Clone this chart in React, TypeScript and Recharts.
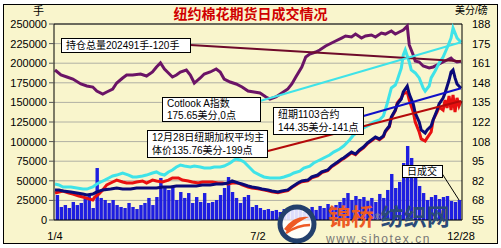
import { ComposedChart, Bar, Line, XAxis, YAxis, CartesianGrid, ReferenceLine } from 'recharts';

// trading day index (0 = 1/4, 204 = 12/28) paired with the value on that day

// 持仓总量 (手)
const openInterest: [number, number][] = [
  [0, 191300], [3, 185000], [6, 182400], [9, 179800], [13, 173500], [16, 170900], [19, 169600],
  [21, 164500], [24, 160700], [26, 163300], [29, 167100], [31, 174700], [34, 181100], [36, 184900],
  [39, 184900], [43, 186200], [46, 183700], [49, 188800], [51, 195200], [53, 200300], [55, 192600],
  [57, 187500], [59, 182400], [61, 184900], [63, 188800], [66, 191300], [68, 184900], [70, 174700],
  [73, 181100], [75, 186200], [78, 188800], [81, 192600], [83, 188800], [85, 179800], [88, 176000],
  [91, 173500], [94, 169600], [97, 164500], [100, 163300], [103, 162000], [106, 156900], [108, 154300],
  [111, 156900], [114, 162000], [117, 167100], [119, 173500], [121, 182400], [124, 195200], [126, 207900],
  [128, 211700], [131, 214300], [133, 216800], [136, 221900], [139, 225800], [141, 228300], [144, 232100],
  [146, 234700], [149, 233400], [151, 237200], [154, 232100], [156, 234700], [159, 236000], [161, 233400],
  [164, 238500], [166, 237200], [169, 241100], [171, 237200], [173, 239800], [175, 242300], [177, 247400],
  [178, 223200], [180, 210500], [181, 202800], [183, 201500], [185, 196400], [188, 193900], [190, 195200],
  [193, 199000], [195, 201500], [197, 204100], [199, 206600], [200, 204100], [202, 201500], [204, 202491],
];

// Cotlook A指数 (美分/磅)
const cotlook: [number, number][] = [
  [0, 79.4], [2, 78.8], [4, 77.4], [8, 77.4], [11, 76.7], [14, 76.0], [16, 76.0], [19, 77.4], [21, 79.4],
  [23, 80.8], [25, 82.1], [27, 83.5], [29, 84.9], [31, 85.5], [34, 86.9], [37, 85.5], [39, 84.2], [41, 84.2],
  [44, 84.9], [46, 85.5], [49, 86.9], [51, 87.6], [53, 86.2], [55, 85.5], [57, 87.6], [59, 88.9], [61, 91.0],
  [63, 92.3], [65, 91.6], [68, 91.0], [70, 91.6], [73, 91.0], [75, 90.3], [78, 90.3], [80, 91.0], [83, 91.0],
  [85, 91.6], [88, 93.7], [90, 95.7], [91, 96.4], [93, 95.7], [95, 94.4], [98, 90.3], [100, 87.6], [103, 85.5],
  [105, 84.2], [108, 83.5], [110, 83.5], [113, 83.5], [115, 84.2], [118, 85.5], [120, 86.9], [123, 88.2],
  [125, 90.3], [128, 91.6], [130, 93.7], [133, 95.7], [135, 97.1], [138, 99.1], [140, 101.1], [143, 103.2],
  [145, 105.2], [148, 109.3], [150, 112.7], [153, 115.4], [155, 117.4], [158, 119.5], [160, 121.5],
  [163, 122.9], [165, 125.6], [167, 134.4], [169, 144.6], [171, 146.6], [172, 150.0], [174, 158.1],
  [175, 167.0], [176, 170.4], [178, 162.2], [179, 156.8], [181, 154.8], [183, 151.4], [185, 144.6],
  [186, 142.5], [188, 145.9], [189, 151.4], [191, 156.1], [193, 161.5], [195, 165.6], [197, 171.7],
  [199, 178.5], [200, 185.3], [202, 178.5], [204, 175.65],
];

// 纽期1103合约 (美分/磅)
const nyMarch: [number, number][] = [
  [0, 75.4], [2, 75.4], [4, 74.7], [8, 74.0], [11, 73.3], [14, 72.6], [16, 72.0], [19, 72.6], [21, 74.0],
  [24, 75.4], [28, 76.0], [31, 76.7], [34, 76.0], [38, 76.0], [41, 76.7], [44, 76.7], [48, 76.7], [51, 76.7],
  [54, 77.4], [58, 77.4], [61, 78.1], [64, 78.1], [68, 78.1], [71, 78.1], [74, 78.8], [78, 78.8], [81, 79.4],
  [84, 79.4], [87, 80.1], [89, 81.5], [92, 80.1], [94, 79.4], [97, 78.1], [99, 77.4], [102, 76.7], [104, 76.0],
  [107, 75.4], [109, 74.7], [112, 74.0], [114, 74.7], [117, 75.4], [119, 77.4], [122, 80.1], [124, 81.5],
  [127, 82.1], [129, 84.2], [132, 85.5], [134, 87.6], [137, 88.9], [139, 91.6], [142, 94.4], [144, 96.4],
  [145, 97.1], [147, 99.1], [149, 101.1], [151, 99.8], [153, 102.5], [155, 104.5], [157, 107.3], [159, 109.3],
  [161, 111.3], [163, 110.0], [165, 112.0], [166, 115.4], [168, 118.8], [169, 124.9], [171, 129.6],
  [172, 133.7], [174, 137.1], [175, 141.9], [177, 145.9], [178, 140.5], [180, 133.7], [181, 127.6],
  [183, 121.5], [184, 116.1], [186, 114.0], [187, 116.1], [189, 118.8], [190, 122.9], [192, 129.6],
  [193, 133.7], [195, 137.8], [196, 141.2], [198, 150.0], [199, 155.4], [200, 156.8], [201, 151.4],
  [202, 147.3], [204, 144.35],
];

// 纽期加权平均主体价 (美分/磅)
const weighted: [number, number][] = [
  [0, 73.3], [2, 74.0], [4, 74.7], [7, 73.3], [9, 72.6], [12, 71.3], [14, 70.6], [17, 69.3], [19, 68.6],
  [20, 70.6], [22, 72.6], [24, 75.4], [26, 78.8], [29, 80.8], [31, 82.1], [34, 80.8], [36, 80.1], [39, 80.1],
  [41, 80.8], [44, 81.5], [46, 80.1], [49, 82.1], [51, 81.5], [54, 80.8], [57, 82.1], [59, 83.5], [62, 83.5],
  [64, 82.1], [67, 81.5], [69, 80.8], [72, 80.1], [74, 80.8], [77, 80.8], [79, 80.8], [82, 80.1], [84, 80.1],
  [87, 79.4], [89, 80.1], [92, 80.1], [94, 78.8], [97, 77.4], [99, 76.7], [102, 76.2], [104, 75.6],
  [107, 74.9], [109, 74.2], [112, 73.5], [114, 74.2], [117, 75.0], [119, 77.0], [122, 79.6], [124, 81.0],
  [127, 81.6], [129, 83.7], [132, 85.0], [134, 87.1], [137, 88.4], [139, 91.1], [142, 93.9], [144, 95.9],
  [145, 96.6], [147, 98.6], [149, 100.6], [151, 99.3], [153, 102.0], [155, 104.0], [157, 106.8],
  [159, 108.8], [161, 110.8], [163, 109.5], [165, 111.5], [166, 114.9], [168, 118.3], [169, 124.4],
  [171, 129.1], [172, 134.4], [174, 137.8], [175, 140.5], [177, 141.9], [178, 136.4], [180, 128.3],
  [181, 121.5], [183, 114.7], [184, 110.0], [186, 108.6], [187, 110.7], [189, 114.7], [190, 122.9],
  [192, 128.3], [193, 131.7], [195, 129.6], [196, 136.4], [197, 131.0], [198, 139.1], [199, 129.6],
  [200, 139.8], [201, 128.3], [202, 137.8], [203, 132.4], [204, 135.76],
];

// 日成交 (手), one bar every two trading days
const volume = [
  31900, 16600, 19100, 15300, 23000, 19100, 21700, 26800, 31900, 15300,
  66300, 28100, 25500, 21700, 25500, 19100, 16600, 15300, 21700, 16600,
  14000, 19100, 21700, 28100, 19100, 29300, 53600, 42100, 38300, 42100,
  25500, 35700, 28100, 34400, 21700, 29300, 23000, 34400, 21700, 23000,
  25500, 31900, 40800, 54800, 35700, 28100, 21700, 29300, 31900,
  16600, 19100, 15300, 12800, 14000, 11500, 12800, 10200, 14000, 11500,
  12800, 15300, 12800, 10200, 14000, 16600, 12800, 17900, 15300, 20400,
  16600, 19100, 23000, 28100, 34400, 25500, 30600, 26800, 29300, 24200,
  28100, 23000, 33200, 28100, 38300, 58700, 40800, 48500, 72700, 94400,
  79100, 54800, 43400, 34400, 25500, 29300, 31900, 26800, 29300, 30600,
  24200, 23000, 25500,
];

const LAST_DAY = 204;
const xLabels: Record<number, string> = { 0: '1/4', 102: '7/2', 204: '12/28' };
const leftTicks = [0, 25000, 50000, 75000, 100000, 125000, 150000, 175000, 200000, 225000, 250000];
const rightTicks = [55, 68.3, 81.6, 94.9, 108.2, 121.5, 134.8, 148.1, 161.4, 174.7, 188];

type Row = { day: number; oi?: number; cot?: number; ny?: number; wavg?: number; vol?: number };

const rows: Row[] = Array.from({ length: LAST_DAY + 1 }, (_, day) => ({ day }));
openInterest.forEach(([d, v]) => (rows[d].oi = v));
cotlook.forEach(([d, v]) => (rows[d].cot = v));
nyMarch.forEach(([d, v]) => (rows[d].ny = v));
weighted.forEach(([d, v]) => (rows[d].wavg = v));
volume.forEach((v, i) => (rows[i * 2 + 1].vol = v));

const last = <T,>(a: T[]) => a[a.length - 1];

const LATIN_FIRST = '"Liberation Sans", "Noto Sans CJK SC", sans-serif';
const axisFont = { fontSize: 11, fill: '#000', fontFamily: '"Liberation Sans", Arial, sans-serif' };

const boxStyle: React.CSSProperties = {
  position: 'absolute',
  background: '#fff',
  border: '1px solid #000',
  fontSize: 10,
  lineHeight: '12px',
  color: '#000',
  paddingLeft: 4,
  boxSizing: 'border-box',
  whiteSpace: 'nowrap',
  fontFamily: LATIN_FIRST,
};

// volume bars are drawn wider than the day band so neighbouring days touch like a dense histogram
function VolumeBar(props: any) {
  const { x, y, width, height, fill } = props;
  if (height == null || height <= 0) return null;
  return <rect x={x + width / 2 - 1.5} y={y} width={3.4} height={height} fill={fill} />;
}

function Watermark() {
  return (
    <div style={{ position: 'absolute', left: 276, top: 203, width: 175, height: 44, pointerEvents: 'none' }}>
      <svg width={44} height={44} style={{ position: 'absolute', left: 0, top: 0 }}>
        <circle cx={21} cy={21} r={17} fill="#ffffff" fillOpacity={0.85} stroke="#23406c" strokeWidth={5} />
        <path d="M8 26 Q18 12 33 14 Q22 18 12 29 Z" fill="#ee5a24" />
        <path d="M10 30 Q22 22 34 22" stroke="#ee5a24" strokeWidth={2.5} fill="none" />
      </svg>
      <div style={{ position: 'absolute', left: 52, top: 2, fontSize: 23, fontWeight: 700, lineHeight: '25px', whiteSpace: 'nowrap', fontFamily: LATIN_FIRST }}>
        <span style={{ color: '#ee5a24' }}>锦桥</span>
        <span style={{ color: '#888', fontSize: 9, verticalAlign: 'top' }}>®</span>
        <span style={{ color: '#2b4a78' }}>纺织网</span>
      </div>
      <div style={{ position: 'absolute', left: 50, top: 30, fontSize: 12, color: '#777', letterSpacing: 1.6, fontFamily: '"Liberation Sans", sans-serif', lineHeight: '13px' }}>
        www.sihotex.cn
      </div>
    </div>
  );
}

export default function App() {
  return (
    <div style={{ position: 'absolute', left: 0, top: 0, width: 501, height: 248, background: '#fff', fontFamily: LATIN_FIRST }}>
      <div style={{ position: 'absolute', left: 3, top: 4, width: 493, height: 238, border: '1px solid #000', background: '#f9f5cc' }} />

      <div style={{ position: 'absolute', left: 0, top: 0 }}>
        <ComposedChart width={501} height={248} data={rows} margin={{ top: 24, right: 0, bottom: 0, left: 0 }}>
          <CartesianGrid yAxisId="left" vertical={false} stroke="#b0b0a4" />
          <XAxis
            dataKey="day"
            interval={0}
            height={28}
            tickLine={false}
            tickMargin={6}
            axisLine={{ stroke: '#000' }}
            tick={axisFont}
            tickFormatter={(d: number) => xLabels[d] ?? ''}
          />
          <YAxis
            yAxisId="left"
            width={54}
            domain={[0, 250000]}
            ticks={leftTicks}
            interval={0}
            tickSize={5}
            tickMargin={2}
            tickLine={{ stroke: '#555' }}
            axisLine={{ stroke: '#000' }}
            tick={axisFont}
          />
          <YAxis
            yAxisId="right"
            orientation="right"
            width={39}
            domain={[55, 188]}
            ticks={rightTicks}
            interval={0}
            tickLine={false}
            tickMargin={4}
            axisLine={{ stroke: '#000' }}
            tick={axisFont}
            tickFormatter={(v: number) => String(Math.round(v))}
          />
          <ReferenceLine yAxisId="left" y={250000} stroke="#000" />

          <Bar yAxisId="left" dataKey="vol" fill="#1e1ee0" shape={VolumeBar} isAnimationActive={false} />
          <Line yAxisId="left" dataKey="oi" stroke="#6b1466" strokeWidth={3} dot={false} connectNulls isAnimationActive={false} />
          <Line yAxisId="right" dataKey="cot" stroke="#3fe3e8" strokeWidth={3} dot={false} connectNulls isAnimationActive={false} />
          <Line yAxisId="right" dataKey="wavg" stroke="#e81010" strokeWidth={3} dot={false} connectNulls isAnimationActive={false} />
          <Line yAxisId="right" dataKey="ny" stroke="#0a0a78" strokeWidth={3} dot={false} connectNulls isAnimationActive={false} />

          {/* leader lines from the callout boxes to each series' last value */}
          <ReferenceLine yAxisId="left" segment={[{ x: 68, y: 223200 }, { x: LAST_DAY, y: last(openInterest)[1] }]} stroke="#6e0a2a" strokeWidth={2} />
          <ReferenceLine yAxisId="right" segment={[{ x: 103, y: 135.8 }, { x: LAST_DAY, y: last(cotlook)[1] }]} stroke="#3fe3e8" strokeWidth={2} />
          <ReferenceLine yAxisId="right" segment={[{ x: 155, y: 125.6 }, { x: LAST_DAY, y: last(nyMarch)[1] }]} stroke="#1010c8" strokeWidth={2} />
          <ReferenceLine yAxisId="right" segment={[{ x: 107, y: 101.8 }, { x: LAST_DAY, y: last(weighted)[1] }]} stroke="#b40a0a" strokeWidth={2} />
          <ReferenceLine yAxisId="left" segment={[{ x: 194, y: 61200 }, { x: 203, y: last(volume) }]} stroke="#000" strokeWidth={1} />
        </ComposedChart>
      </div>

      <div style={{ position: 'absolute', left: 0, width: 501, top: 4, textAlign: 'center', color: '#d00000', fontWeight: 700, fontSize: 14, lineHeight: '18px', fontFamily: '"Noto Sans CJK SC", sans-serif' }}>
        纽约棉花期货日成交情况
      </div>
      <div style={{ position: 'absolute', left: 33, top: 5, fontSize: 11, lineHeight: '12px' }}>手</div>
      <div style={{ position: 'absolute', left: 455, top: 5, fontSize: 10, lineHeight: '12px' }}>美分/磅</div>

      <div style={{ ...boxStyle, left: 61, top: 38, width: 130, height: 15, lineHeight: '13px' }}>持仓总量202491手-120手</div>
      <div style={{ ...boxStyle, left: 162, top: 97, width: 99, height: 25 }}>
        Cotlook A指数<br />175.65美分,0点
      </div>
      <div style={{ ...boxStyle, left: 273, top: 107, width: 91, height: 28, lineHeight: '13px' }}>
        纽期1103合约<br />144.35美分-141点
      </div>
      <div style={{ ...boxStyle, left: 147, top: 130, width: 121, height: 28, lineHeight: '13px' }}>
        12月28日纽期加权平均主<br />体价135.76美分-199点
      </div>
      <div style={{ ...boxStyle, left: 402, top: 165, width: 41, height: 13, lineHeight: '11px' }}>日成交</div>

      <Watermark />
    </div>
  );
}
